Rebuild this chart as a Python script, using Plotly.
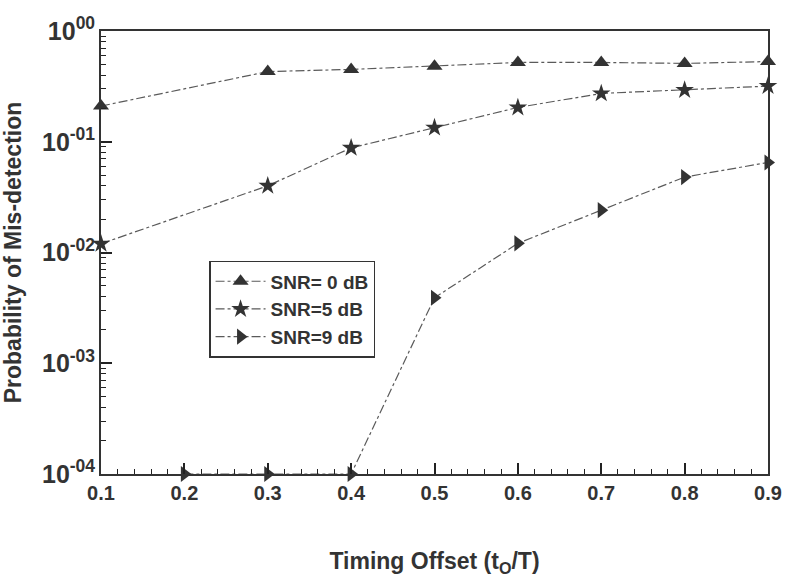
import plotly.graph_objects as go

offset_ticks = [0.1, 0.2, 0.3, 0.4, 0.5, 0.6, 0.7, 0.8, 0.9]

snr0_x = [0.1, 0.3, 0.4, 0.5, 0.6, 0.7, 0.8, 0.9]
snr0_y = [0.21, 0.43, 0.45, 0.48, 0.52, 0.52, 0.51, 0.53]

snr5_x = [0.1, 0.3, 0.4, 0.5, 0.6, 0.7, 0.8, 0.9]
snr5_y = [0.012, 0.040, 0.088, 0.134, 0.204, 0.273, 0.293, 0.318]

snr9_x = [0.2, 0.3, 0.4, 0.5, 0.6, 0.7, 0.8, 0.9]
snr9_y = [1e-4, 1e-4, 1e-4, 0.0039, 0.0121, 0.0241, 0.048, 0.065]

names = ["SNR= 0 dB", "SNR=5 dB", "SNR=9 dB"]
symbols = ["triangle-up", "star", "triangle-right"]

# desired y tick labels keyed by decade exponent
y_exponents = [0, -1, -2, -3, -4]
y_labels = ["10<sup>00</sup>", "10<sup>-01</sup>", "10<sup>-02</sup>",
            "10<sup>-03</sup>", "10<sup>-04</sup>"]

alias = {}
for p, lab in zip(y_exponents, y_labels):
    if p == 0:
        alias["1"] = lab
        alias["10<sup>0</sup>"] = lab
    else:
        alias["10<sup>\u2212%d</sup>" % (-p)] = lab
        alias["10<sup>-%d</sup>" % (-p)] = lab

ink = "#333333"
tick_ink = "#222222"
line_col = "#5a5a5a"

fig = go.Figure()
series = [(snr0_x, snr0_y), (snr5_x, snr5_y), (snr9_x, snr9_y)]
for (xs, ys), nm, sym in zip(series, names, symbols):
    fig.add_trace(go.Scatter(
        x=xs, y=ys, name=nm, mode="lines+markers",
        line=dict(color=line_col, width=1.2, dash="dashdot"),
        marker=dict(symbol=sym, size=14, color=ink, line=dict(width=0)),
        cliponaxis=False,
    ))

fig.update_layout(
    width=793, height=581,
    paper_bgcolor="white", plot_bgcolor="white",
    margin=dict(l=101, r=25, t=31, b=107, autoexpand=False),
    font=dict(family="Liberation Sans, Arial, sans-serif", size=20, color=ink, weight="bold"),
    showlegend=True,
    legend=dict(
        x=0.162, y=0.481, xanchor="left", yanchor="top",
        bgcolor="white", bordercolor=ink, borderwidth=1.5,
        font=dict(size=19, weight="bold", color=ink),
        tracegroupgap=0, itemwidth=50,
    ),
)

fig.update_xaxes(
    range=[0.1, 0.9], automargin=False,
    tickmode="linear", tick0=offset_ticks[0], dtick=0.1, tickformat=".1f",
    ticks="inside", ticklen=11, tickwidth=1.6, tickcolor=tick_ink,
    minor=dict(ticks="inside", tick0=0.1, dtick=0.02, ticklen=5, tickwidth=1.3, tickcolor=tick_ink),
    showline=True, linecolor=ink, linewidth=1.8, mirror=True,
    showgrid=False, zeroline=False,
    tickfont=dict(size=20, weight="bold", color=ink),
    title=dict(text="Timing Offset (t<sub>O</sub>/T)",
               font=dict(size=23, weight="bold", color=ink), standoff=50),
)

fig.update_yaxes(
    type="log", range=[-4, 0], automargin=False,
    tickmode="linear", tick0=0, dtick=1, exponentformat="power", showexponent="all",
    labelalias=alias,
    ticks="inside", ticklen=11, tickwidth=1.6, tickcolor=tick_ink,
    minor=dict(ticks="inside", ticklen=5, tickwidth=1.3, tickcolor=tick_ink),
    showline=True, linecolor=ink, linewidth=1.8, mirror=True,
    showgrid=False, zeroline=False,
    tickfont=dict(size=20, weight="bold", color=ink),
    title=dict(text="Probability of Mis-detection",
               font=dict(size=23, weight="bold", color=ink), standoff=14),
)

fig.write_html("out.html", config={"displayModeBar": False},
               post_script="document.body.style.margin='0';")
